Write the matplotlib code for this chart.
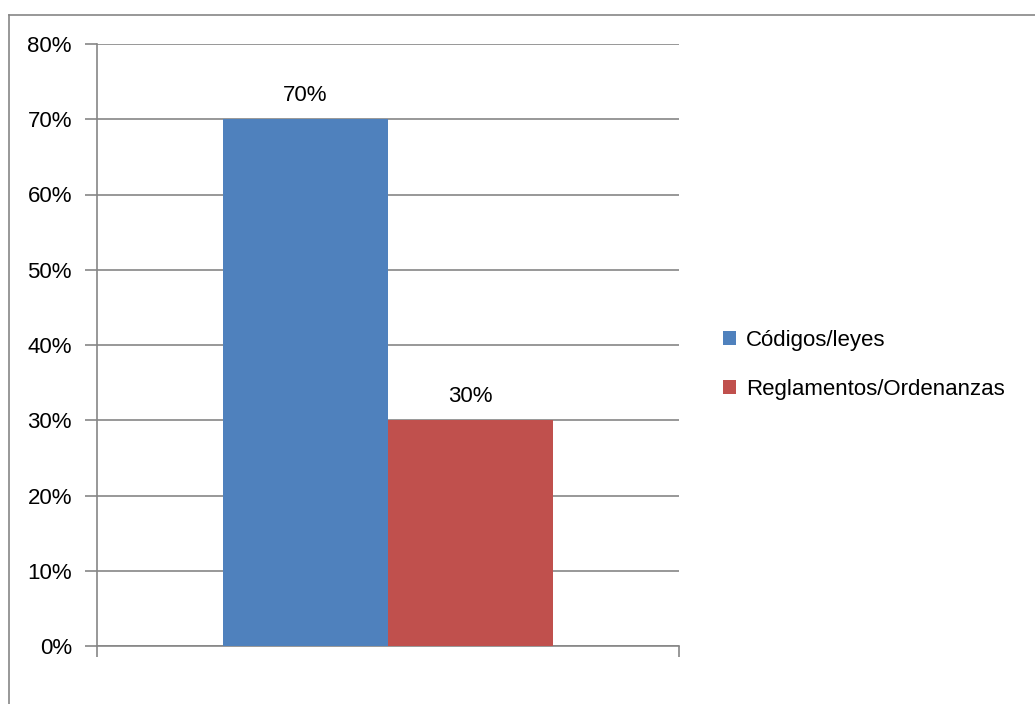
import matplotlib
matplotlib.use("Agg")
import matplotlib.pyplot as plt
from matplotlib.lines import Line2D
from matplotlib.patches import Patch

series = ["Códigos/leyes", "Reglamentos/Ordenanzas"]
values = [70, 30]
colors = ["#4F81BD", "#C0504D"]
yticks = [0, 10, 20, 30, 40, 50, 60, 70, 80]
ytick_labels = [f"{v}%" for v in yticks]

plt.rcParams['font.family'] = ['Liberation Sans', 'DejaVu Sans']

W, H = 1035, 704
fig = plt.figure(figsize=(W/100, H/100), dpi=100)
ax = fig.add_axes([97/W, 1-646/H, (679-97)/W, (646-44)/H])

bw = 165/582
offsets = [-bw/2, bw/2]
for off, v, c, s in zip(offsets, values, colors, series):
    ax.bar(off, v, width=bw, color=c, label=s, zorder=3)
    ax.text(off, v + 3.1, f"{v}%", ha="center", va="center", fontsize=16, color="#000000")

ax.set_xlim(-0.5, 0.5)
ax.set_ylim(0, 80)
ax.set_yticks(yticks)
ax.set_yticklabels(ytick_labels, fontsize=16)
ax.set_xticks([-0.5, 0.5])
ax.set_xticklabels(["", ""])
ax.grid(axis="y", color="#868686", linewidth=1.2, zorder=0)
for sp in ["top", "right"]:
    ax.spines[sp].set_visible(False)
for sp in ["left", "bottom"]:
    ax.spines[sp].set_color("#868686")
    ax.spines[sp].set_linewidth(1.2)
ax.tick_params(axis="y", length=9, width=1.2, color="#868686", pad=9)
ax.tick_params(axis="x", length=8, width=1.2, color="#868686")

handles = [Patch(facecolor=c, edgecolor="none") for c in colors]
fig.legend(handles, series, loc="center left", bbox_to_anchor=(723/W, 1-365/H),
           frameon=False, fontsize=16, handlelength=0.6, handleheight=0.6,
           handletextpad=0.45, labelspacing=1.25, borderpad=0, borderaxespad=0)

fig.add_artist(Line2D([9/W, 9/W], [0, 1-15/H], color="#868686", linewidth=1.2))
fig.add_artist(Line2D([9/W, 1], [1-15/H, 1-15/H], color="#868686", linewidth=1.2))

fig.savefig("out.png", dpi=100)
